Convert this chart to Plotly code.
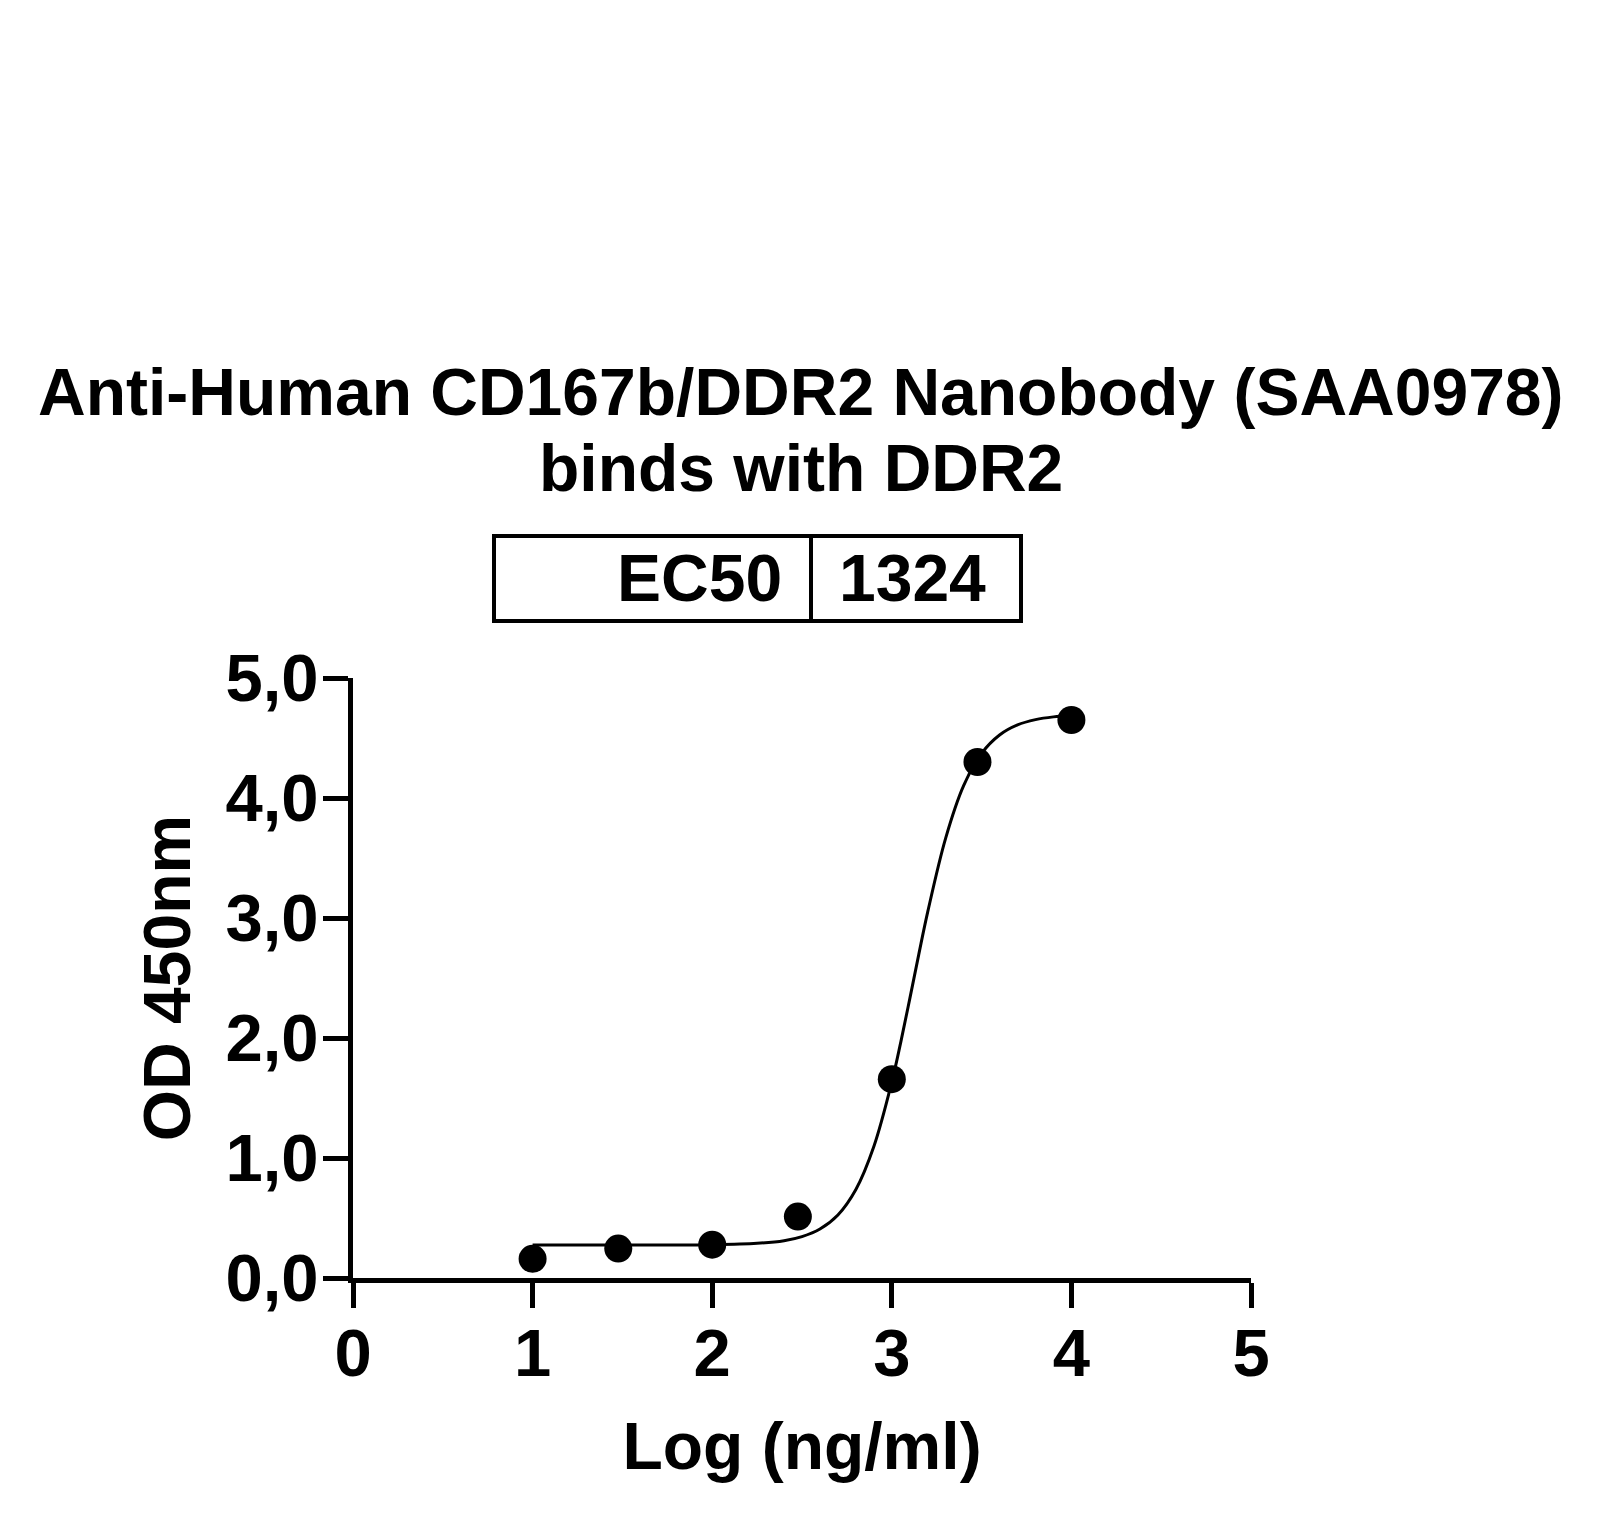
import plotly.graph_objects as go

# measured points (log concentration, OD 450nm)
log_conc = [1.0, 1.477, 2.0, 2.477, 3.0, 3.477, 4.0]
od450 = [0.16, 0.245, 0.278, 0.512, 1.657, 4.30, 4.65]

# fitted curve
fit_x = [1.0, 1.5, 2.0, 2.25, 2.4, 2.5, 2.6, 2.7, 2.8, 2.9, 3.0, 3.05,
         3.1, 3.15, 3.2, 3.3, 3.4, 3.5, 3.6, 3.7, 3.8, 3.9, 4.0]
fit_y = [0.276, 0.276, 0.278, 0.289, 0.311, 0.345, 0.408, 0.525, 0.737,
         1.095, 1.633, 1.966, 2.326, 2.695, 3.051, 3.666, 4.103, 4.372,
         4.525, 4.609, 4.653, 4.676, 4.687]

x_ticks = [0, 1, 2, 3, 4, 5]
y_ticks = [0, 1, 2, 3, 4, 5]
y_ticktext = ["0,0", "1,0", "2,0", "3,0", "4,0", "5,0"]

ec50_label = "EC50"
ec50_value = "1324"

W, H = 1603, 1526
L, R, T, B = 345, 360, 670, 256
FONT = "Liberation Sans, Arial, sans-serif"


def px(x):
    return (x - L) / (W - L - R)


def py(y):
    return (H - B - y) / (H - T - B)


fig = go.Figure()
fig.add_trace(go.Scatter(
    x=fit_x, y=fit_y, mode="lines",
    line=dict(color="black", width=3, shape="spline"),
    hoverinfo="skip",
))
fig.add_trace(go.Scatter(
    x=log_conc, y=od450, mode="markers",
    marker=dict(color="black", size=28),
))

# title (two lines)
fig.add_annotation(text="<b>Anti-Human CD167b/DDR2 Nanobody (SAA0978)</b>",
                   xref="paper", yref="paper", x=px(793), y=py(384),
                   yanchor="middle", showarrow=False, font=dict(size=66))
fig.add_annotation(text="<b>binds with DDR2</b>",
                   xref="paper", yref="paper", x=px(793), y=py(460),
                   yanchor="middle", showarrow=False, font=dict(size=66))

# EC50 box
fig.add_shape(type="rect", xref="paper", yref="paper",
              x0=px(486), x1=px(1013), y0=py(613), y1=py(528),
              line=dict(color="black", width=4))
fig.add_shape(type="line", xref="paper", yref="paper",
              x0=px(803), x1=px(803), y0=py(613), y1=py(528),
              line=dict(color="black", width=4))
fig.add_annotation(text="<b>" + ec50_label + "</b>", xref="paper", yref="paper",
                   x=px(776), y=py(570), xanchor="right", yanchor="middle",
                   showarrow=False, font=dict(size=66))
fig.add_annotation(text="<b>" + ec50_value + "</b>", xref="paper", yref="paper",
                   x=px(829), y=py(570), xanchor="left", yanchor="middle",
                   showarrow=False, font=dict(size=66))

axis_common = dict(
    showline=True, linecolor="black", linewidth=5,
    ticks="outside", ticklen=25, tickwidth=5, tickcolor="black",
    showgrid=False, zeroline=False,
    tickfont=dict(size=67, color="black"),
    title_font=dict(size=66, color="black"),
)

fig.update_xaxes(range=[0, 5], tickvals=x_ticks,
                 ticktext=["<b>%d</b>" % v for v in x_ticks],
                 title_text="<b>Log (ng/ml)</b>", title_standoff=35,
                 ticklabelstandoff=-12, **axis_common)
fig.update_yaxes(range=[0, 5], tickvals=y_ticks,
                 ticktext=["<b>%s</b>" % t for t in y_ticktext],
                 title_text="<b>OD 450nm</b>", title_standoff=15,
                 ticklabelstandoff=-9, **axis_common)

fig.update_layout(
    width=W, height=H,
    margin=dict(l=L, r=R, t=T, b=B),
    paper_bgcolor="white", plot_bgcolor="white",
    showlegend=False,
    font=dict(family=FONT, color="black"),
)

fig.write_html("out.html")
